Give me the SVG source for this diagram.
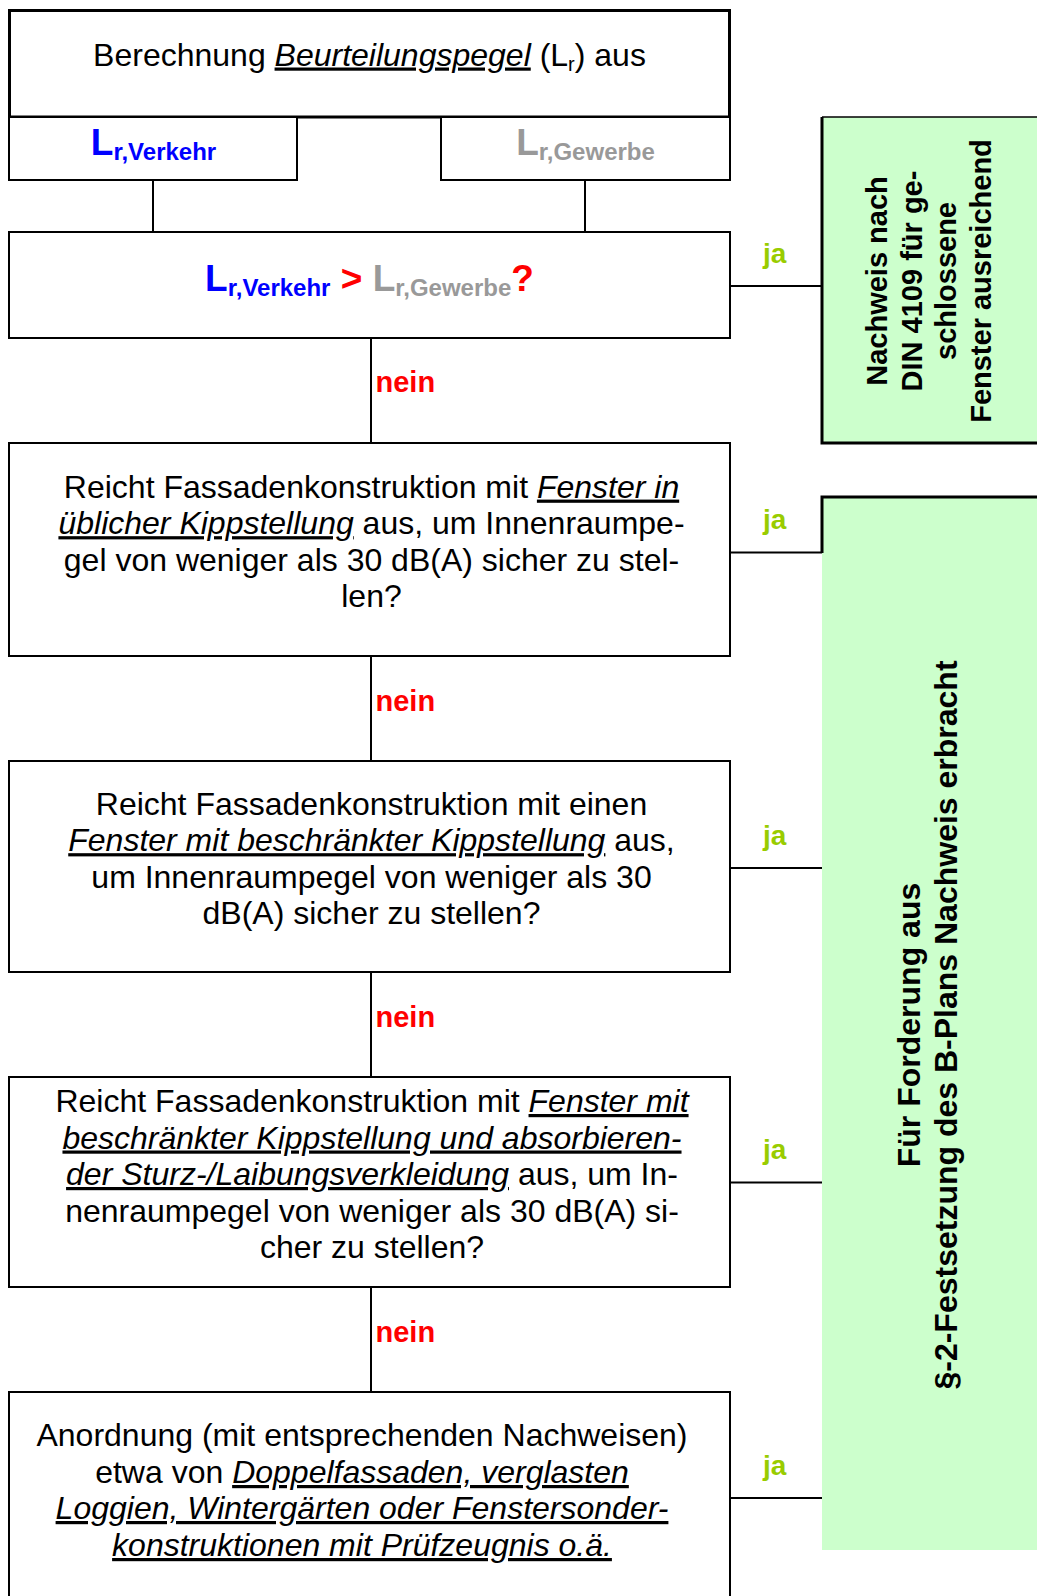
<svg xmlns="http://www.w3.org/2000/svg" width="1037" height="1596" viewBox="0 0 1037 1596">
<style>
.t{font-family:"Liberation Sans",Arial,sans-serif;font-size:32px;fill:#000;text-anchor:middle}
.iu{font-style:italic;text-decoration:underline}
.box{fill:#fff;stroke:#000;stroke-width:2}
.b{font-family:"Liberation Sans",Arial,sans-serif;font-weight:bold}
.ja{font-size:28px;fill:#99cc00}
.nein{font-size:29px;fill:#ff0000}
.conn line{stroke:#000;stroke-width:2}
.green{fill:#ccffcc}
.gt{font-family:"Liberation Sans",Arial,sans-serif;font-weight:bold;fill:#000;text-anchor:middle}
.blue{fill:#0000ff}
.gray{fill:#999999}
.red{fill:#ff0000}
</style>
<rect width="1037" height="1596" fill="#fff"/>

<g id="connectors" class="conn">
<line x1="153" y1="180" x2="153" y2="232"/>
<line x1="585" y1="180" x2="585" y2="232"/>
<line x1="371" y1="338" x2="371" y2="443"/>
<line x1="371" y1="656" x2="371" y2="761"/>
<line x1="371" y1="972" x2="371" y2="1077"/>
<line x1="371" y1="1287" x2="371" y2="1392"/>
<line x1="730" y1="286" x2="822" y2="286"/>
<line x1="730" y1="552.5" x2="822" y2="552.5"/>
<line x1="730" y1="868" x2="822" y2="868"/>
<line x1="730" y1="1182.5" x2="822" y2="1182.5"/>
<line x1="730" y1="1498" x2="822" y2="1498"/>
</g>

<g id="labels">
<text class="b ja" x="763" y="262.5">ja</text>
<text class="b ja" x="763" y="529">ja</text>
<text class="b ja" x="763" y="844.5">ja</text>
<text class="b ja" x="763" y="1159">ja</text>
<text class="b ja" x="763" y="1474.5">ja</text>
<text class="b nein" x="375.5" y="392">nein</text>
<text class="b nein" x="375.5" y="711">nein</text>
<text class="b nein" x="375.5" y="1027">nein</text>
<text class="b nein" x="375.5" y="1342">nein</text>
</g>

<g id="n-start">
<rect x="9.5" y="10.5" width="720" height="106.5" fill="#fff" stroke="#000" stroke-width="3"/>
<text class="t" x="369.5" y="65.5">Berechnung <tspan class="iu">Beurteilungspegel</tspan> (L<tspan font-size="20" dy="5">r</tspan><tspan dy="-5">) aus</tspan></text>
</g>

<g id="n-verkehr">
<rect class="box" x="9" y="117" width="288" height="63"/>
<text class="b blue" x="153.5" y="155" text-anchor="middle"><tspan font-size="37">L</tspan><tspan font-size="24" dy="5">r,Verkehr</tspan></text>
</g>

<g id="n-gewerbe">
<rect class="box" x="441" y="117" width="289" height="63"/>
<text class="b gray" x="585.5" y="155" text-anchor="middle"><tspan font-size="37">L</tspan><tspan font-size="24" dy="5">r,Gewerbe</tspan></text>
</g>

<g id="n-compare">
<rect class="box" x="9" y="232" width="721" height="106"/>
<text class="b" x="369.5" y="291" text-anchor="middle"><tspan class="blue" font-size="37">L</tspan><tspan class="blue" font-size="24" dy="4.5">r,Verkehr</tspan><tspan class="red" font-size="37" dy="-4.5"> &gt; </tspan><tspan class="gray" font-size="37">L</tspan><tspan class="gray" font-size="24" dy="4.5">r,Gewerbe</tspan><tspan class="red" font-size="37" dy="-4.5">?</tspan></text>
</g>

<g id="n-q1">
<rect class="box" x="9" y="443" width="721" height="213"/>
<text class="t" x="371.5" y="497.6">Reicht Fassadenkonstruktion mit <tspan class="iu">Fenster in</tspan></text>
<text class="t" x="371.5" y="534.2"><tspan class="iu">üblicher Kippstellung</tspan> aus, um Innenraumpe-</text>
<text class="t" x="371.5" y="570.8">gel von weniger als 30 dB(A) sicher zu stel-</text>
<text class="t" x="371.5" y="607.4">len?</text>
</g>

<g id="n-q2">
<rect class="box" x="9" y="761" width="721" height="211"/>
<text class="t" x="371.5" y="814.6">Reicht Fassadenkonstruktion mit einen</text>
<text class="t" x="371.5" y="851.2"><tspan class="iu">Fenster mit beschränkter Kippstellung</tspan> aus,</text>
<text class="t" x="371.5" y="887.8">um Innenraumpegel von weniger als 30</text>
<text class="t" x="371.5" y="924.4">dB(A) sicher zu stellen?</text>
</g>

<g id="n-q3">
<rect class="box" x="9" y="1077" width="721" height="210"/>
<text class="t" x="372" y="1112">Reicht Fassadenkonstruktion mit <tspan class="iu">Fenster mit</tspan></text>
<text class="t" x="372" y="1148.5"><tspan class="iu">beschränkter Kippstellung und absorbieren-</tspan></text>
<text class="t" x="372" y="1185"><tspan class="iu">der Sturz-/Laibungsverkleidung</tspan> aus, um In-</text>
<text class="t" x="372" y="1221.6">nenraumpegel von weniger als 30 dB(A) si-</text>
<text class="t" x="372" y="1258">cher zu stellen?</text>
</g>

<g id="n-q4">
<rect class="box" x="9" y="1392" width="721" height="230"/>
<text class="t" x="362" y="1446">Anordnung (mit entsprechenden Nachweisen)</text>
<text class="t" x="362" y="1483">etwa von <tspan class="iu">Doppelfassaden, verglasten</tspan></text>
<text class="t" x="362" y="1519"><tspan class="iu">Loggien, Wintergärten oder Fenstersonder-</tspan></text>
<text class="t" x="362" y="1556"><tspan class="iu">konstruktionen mit Prüfzeugnis o.ä.</tspan></text>
</g>

<g id="n-din">
<rect class="green" x="822" y="117" width="220" height="326"/>
<path d="M822,117 H1040" fill="none" stroke="#000" stroke-width="1.5"/>
<path d="M822,117 V443 H1040" fill="none" stroke="#000" stroke-width="3"/>
<text class="gt" font-size="29" transform="translate(887,281) rotate(-90)">Nachweis nach</text>
<text class="gt" font-size="29" transform="translate(921.5,281) rotate(-90)">DIN 4109 für ge-</text>
<text class="gt" font-size="29" transform="translate(956,281) rotate(-90)">schlossene</text>
<text class="gt" font-size="29" transform="translate(990.5,281) rotate(-90)">Fenster ausreichend</text>
</g>

<g id="n-bplan">
<rect class="green" x="822" y="497" width="220" height="1053"/>
<path d="M822,553 V497 H1040" fill="none" stroke="#000" stroke-width="3"/>
<text class="gt" font-size="32" transform="translate(919.5,1025) rotate(-90)">Für Forderung aus</text>
<text class="gt" font-size="32" transform="translate(957.3,1025) rotate(-90)">§-2-Festsetzung des B-Plans Nachweis erbracht</text>
</g>
</svg>
